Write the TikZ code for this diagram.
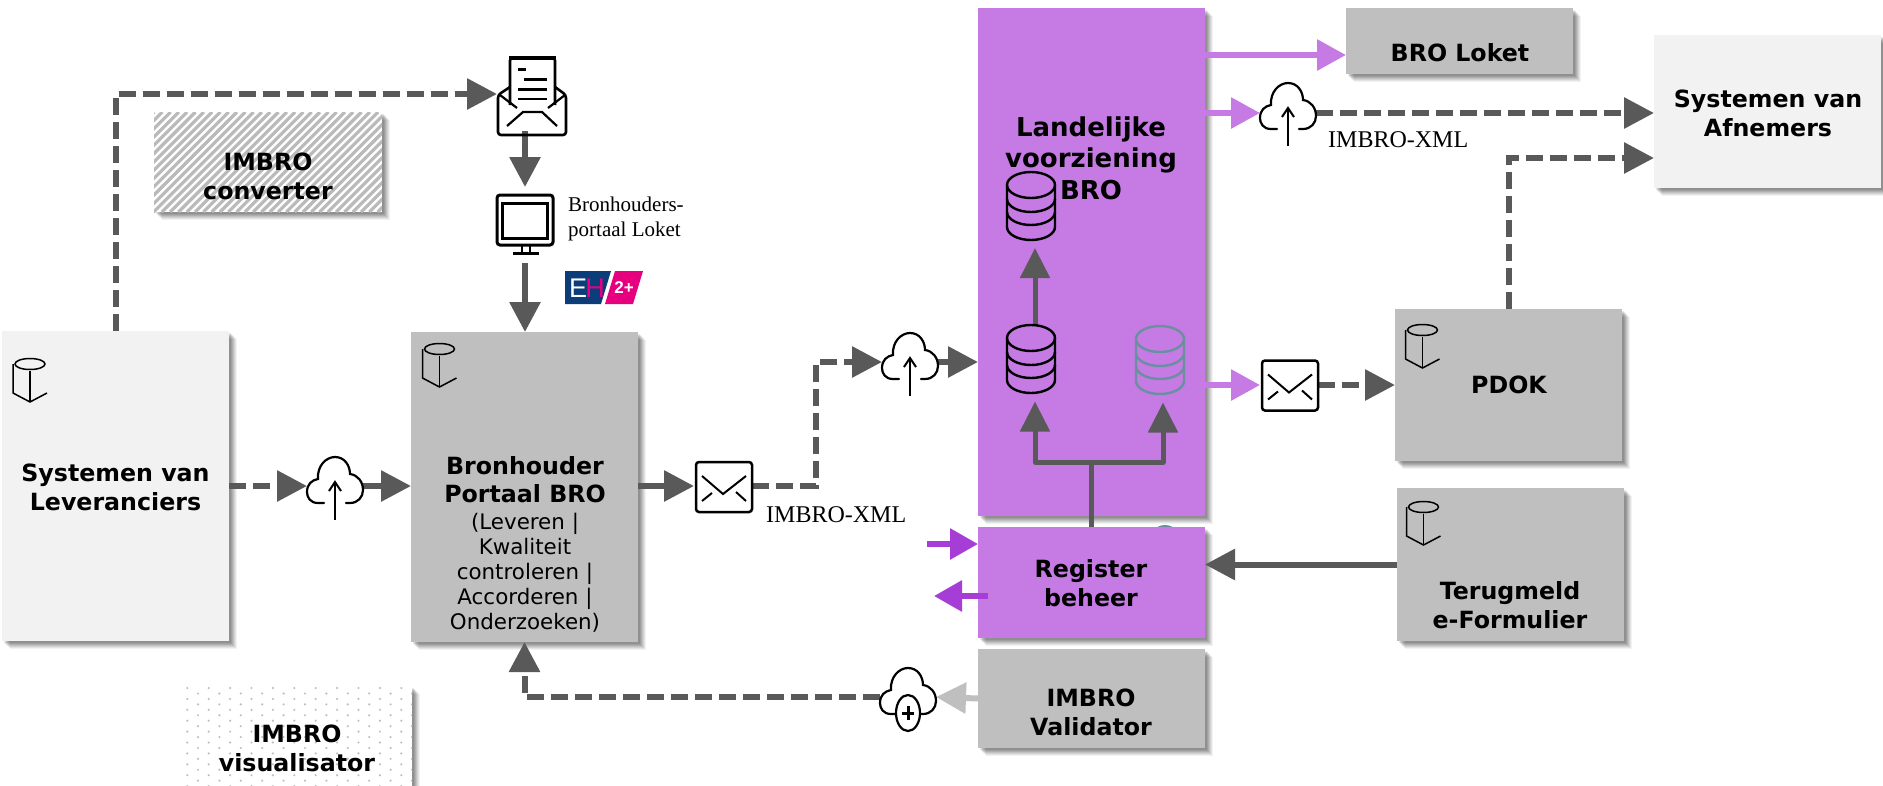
\documentclass[tikz,border=0pt]{standalone}
\usepackage{fontspec}
\setmainfont{DejaVu Sans}
\newfontfamily\lbserif{Liberation Serif}
\newfontfamily\lbsans{Liberation Sans}
\usetikzlibrary{arrows.meta,shadows,calc}
\definecolor{conngray}{HTML}{595959}
\definecolor{blockgray}{HTML}{BFBFBF}
\definecolor{blocklight}{HTML}{F2F2F2}
\definecolor{lvpurple}{HTML}{C57BE3}
\definecolor{darkpurple}{HTML}{A63DD6}
\definecolor{dbteal}{HTML}{6A8FA0}
\definecolor{ehblue}{HTML}{0B3D7A}
\definecolor{ehpink}{HTML}{E6007E}
\newcommand\lblfont{\fontsize{23.7}{29}\selectfont\bfseries}
\tikzset{
  softshadow/.style={
    general shadow={shadow xshift=8pt,shadow yshift=-8pt,fill=black,opacity=.05},
    general shadow={shadow xshift=7pt,shadow yshift=-7pt,fill=black,opacity=.06},
    general shadow={shadow xshift=6pt,shadow yshift=-6pt,fill=black,opacity=.07},
    general shadow={shadow xshift=5pt,shadow yshift=-5pt,fill=black,opacity=.08},
    general shadow={shadow xshift=4pt,shadow yshift=-4pt,fill=black,opacity=.09},
    general shadow={shadow xshift=3pt,shadow yshift=-3pt,fill=black,opacity=.09},
    general shadow={shadow xshift=2pt,shadow yshift=-2pt,fill=black,opacity=.09}},
  block/.style 2 args={softshadow,inner sep=0pt,outer sep=0pt,anchor=north west,minimum width=#1,minimum height=#2},
  lbl/.style={font=\lblfont,align=center,inner sep=0pt,text=black},
  xmltext/.style={font=\lbserif\fontsize{24}{26}\selectfont,anchor=west,inner sep=0pt,text=black},
  iconbox/.style={inner sep=0pt,outer sep=0pt,minimum width=56pt,minimum height=50pt},
  conn/.style={draw=conngray,line width=6pt,-{Triangle[length=30pt,width=30pt]}},
  dashconn/.style={conn,dash pattern=on 17pt off 7pt},
  dbconn/.style={draw=conngray,line width=5pt,line join=round,-{Triangle[length=30pt,width=29pt]}},
  purpleconn/.style={conn,draw=lvpurple,-{Triangle[length=29pt,width=30pt,fill=lvpurple]}},
  darkconn/.style={conn,draw=darkpurple,-{Triangle[length=28pt,width=30pt,fill=darkpurple]}},
  lightconn/.style={conn,draw=blockgray,-{Triangle[length=30pt,width=30pt,fill=blockgray]}},
  pics/cyl/.style={code={
    \draw[line width=1.5pt,black] (0,0) ellipse (15 and 5.5);
    \draw[line width=1.5pt,black] (-17,0) -- (-17,29) -- (0,38) -- (17,29);
    \draw[line width=1.5pt,black] (0,7) -- (0,38);
  }},
  pics/clouddrawing/.style={code={
    \draw[line width=2.2pt,black,line cap=round] (-11,17) -- (-17,17)
      .. controls (-25,17) and (-28,11) .. (-28,6)
      .. controls (-28,-2) and (-23,-6) .. (-17,-7)
      .. controls (-18,-20) and (-9,-29) .. (0,-29)
      .. controls (10,-29) and (15,-20) .. (15,-12)
      .. controls (23,-11) and (28,-4) .. (28,4)
      .. controls (28,11) and (23,17) .. (15,17) -- (11,17);
  }},
  pics/cloudup/.style={code={
    \pic {clouddrawing};
    \draw[line width=2pt,black] (0,34) -- (0,-3);
    \draw[line width=2pt,black] (-6,5) -- (0,-4) -- (6,5);
  }},
  pics/cloudplus/.style={code={
    \pic {clouddrawing};
    \draw[line width=2.2pt,black,fill=white] (0,16) ellipse (12 and 18);
    \draw[line width=3pt,black] (-6,16) -- (6,16) (0,9) -- (0,23);
  }},
  pics/envelope/.style={code={
    \draw[line width=2.5pt,black,fill=white,rounded corners=3pt] (-28,-25) rectangle (28,25);
    \draw[line width=2pt,black] (-22,-11) -- (-1,7) -- (22,-11);
    \draw[line width=2pt,black] (-22,14) -- (-12,6) (22,14) -- (12,5);
  }},
  pics/database/.style={code={
    \draw[line width=2.4pt,pic actions] (0,13) ellipse (24 and 13);
    \draw[line width=2.4pt,pic actions] (-24,13) -- (-24,55) arc[start angle=180,end angle=360,x radius=24,y radius=-13] -- (24,13);
    \draw[line width=2.4pt,pic actions] (-24,27) arc[start angle=180,end angle=360,x radius=24,y radius=-13];
    \draw[line width=2.4pt,pic actions] (-24,40) arc[start angle=180,end angle=360,x radius=24,y radius=-13];
  }},
  pics/screen/.style={code={
    \draw[line width=3pt,black,fill=white,rounded corners=3pt] (-28,-29) rectangle (28,21);
    \draw[line width=3pt,black] (-22.5,-21) rectangle (22.5,14);
    \draw[line width=1.6pt,black] (-3,21) -- (-3,29) (5,21) -- (5,29);
    \draw[line width=3.5pt,black] (-12,29.5) -- (14,29.5);
  }},
}
\begin{document}
\begin{tikzpicture}[x=1pt,y=-1pt]
\path[use as bounding box,fill=white] (0,0) rectangle (1883,785);

% blocks
\node[block={227pt}{310pt},fill=blocklight] (lev) at (2,331) {};
\node[block={227pt}{310pt},fill=blockgray] (bron) at (411,332) {};
\node[block={228pt}{100pt},fill=white] (conv) at (154,112) {};
\begin{scope}
  \clip (154,112) rectangle (382,212);
  \foreach \sx in {54,62.3,...,382} \draw[line width=3.2pt,color=black!27] (\sx,212) -- ++(100,-100);
\end{scope}
\node[block={227pt}{114pt},fill=white] (vis) at (185,686) {};
\begin{scope}
  \clip (185,686) rectangle (412,800);
  \foreach \row in {0,...,18} {
    \pgfmathsetmacro{\ry}{688+5.45*\row}
    \pgfmathsetmacro{\rx}{187.3+10.7*mod(\row,2)}
    \foreach \col in {0,...,10} {
      \fill[black!25] ({\rx+21.4*\col},\ry) circle (1.2);
    }
  }
\end{scope}
\node[block={227pt}{508pt},fill=lvpurple] (lv) at (978,8) {};
\draw[line width=2pt,dbteal] (1165,531) ellipse (9 and 5);
\node[block={227pt}{111pt},fill=lvpurple] (reg) at (978,527) {};
\node[block={227pt}{99pt},fill=blockgray] (val) at (978,649) {};
\node[block={227pt}{66pt},fill=blockgray] (loket) at (1346,8) {};
\node[block={227pt}{153pt},fill=blocklight] (afn) at (1654,35) {};
\node[block={227pt}{152pt},fill=blockgray] (pdok) at (1395,309) {};
\node[block={227pt}{153pt},fill=blockgray] (ter) at (1397,488) {};

% icon anchors
\node[iconbox,minimum width=69pt,minimum height=74pt] (mail) at (531.5,94) {};
\node[iconbox,minimum height=60pt] (mon) at (525,224) {};
\node[iconbox] (cloudA) at (335,486) {};
\node[iconbox] (cloudB) at (1288,113) {};
\node[iconbox] (cloudC) at (910,362) {};
\node[iconbox] (cloudD) at (908,697) {};
\node[iconbox] (envA) at (724,486) {};
\node[iconbox] (envB) at (1290,385) {};
\node[iconbox,minimum width=48pt,minimum height=70pt] (dbT) at (1031,207) {};
\node[iconbox,minimum width=48pt,minimum height=69pt] (dbM) at (1031,360) {};
\node[iconbox,minimum width=48pt,minimum height=71pt] (dbR) at (1160,360) {};

% connectors
\coordinate (bendA) at (816,486);
\coordinate (bendB) at (816,362);
\coordinate (junc) at (1091.5,462);
\coordinate (lokIn) at ([yshift=-14pt]loket.west);
\coordinate (afnIn) at ([yshift=-46.5pt]afn.west);
\coordinate (regInSrc) at (927,544);
\coordinate (regOutStart) at (988,596);
\coordinate (regOutEnd) at (934,596);

\draw[dashconn] (lev.north) |- (mail.west);
\draw[conn,shorten >=7pt] (mail.south -| mon.north) -- (mon.north);
\draw[conn,shorten <=9pt] (mon.south) -- (mon.south |- bron.north);
\draw[dashconn] (lev.east |- cloudA.west) -- (cloudA.west);
\draw[conn] (cloudA.east) -- (bron.west |- cloudA.east);
\draw[conn,shorten >=2pt] (bron.east |- envA.west) -- (envA.west);
\draw[dashconn] (envA.east) -- (bendA) -- (bendB) -- (cloudC.west);
\draw[conn] (cloudC.east) -- (lv.west |- cloudC.east);
\draw[dbconn,shorten >=6pt] ([xshift=4pt]dbM.north) -- ([xshift=4pt]dbT.south);
\draw[dbconn,shorten >=7pt] (reg.north) -- (junc) -| ([xshift=4pt]dbM.south);
\draw[dbconn,shorten >=7pt] (reg.north) -- (junc) -| ([xshift=3pt]dbR.south);
\draw[purpleconn] (lv.east |- lokIn) -- (lokIn);
\draw[purpleconn] (lv.east |- cloudB.west) -- (cloudB.west);
\draw[dashconn] (cloudB.east) -- (afn.west |- cloudB.east);
\draw[dashconn] (pdok.north) |- (afnIn);
\draw[purpleconn,shorten >=2pt] (lv.east |- envB.west) -- (envB.west);
\draw[dashconn] (envB.east) -- (pdok.west |- envB.east);
\draw[conn] (ter.west) -- (reg.east |- ter.west);
\draw[lightconn] (val.west) -- (cloudD.east);
\draw[dashconn] (cloudD.west) -| (bron.south);
\draw[darkconn] (regInSrc) -- (reg.west |- regInSrc);
\draw[darkconn] (regOutStart) -- (regOutEnd);

% icons
\pic at (335,486) {cloudup};
\pic at (1288,112) {cloudup};
\pic at (910,362) {cloudup};
\pic at (908,697) {cloudplus};
\pic at (724,487) {envelope};
\pic at (1290,385.5) {envelope};
\pic at (525,224) {screen};
\pic[draw=black] at (1031,172) {database};
\pic[draw=black] at (1031,325) {database};
\pic[draw=dbteal] at (1160,326) {database};
\pic at (30,364) {cyl};
\pic at (439.5,349) {cyl};
\pic at (1422.5,330) {cyl};
\pic at (1423.5,507) {cyl};

% mail with document
\draw[line width=2.6pt,black,rounded corners=2.5pt] (510,105) -- (510,58) -- (555,58) -- (555,105);
\draw[line width=3.5pt,black] (509,58) -- (556,58);
\draw[line width=3pt,black] (518,69) -- (526,69) (524,79) -- (547,79) (518,89) -- (547,89);
\draw[line width=2pt,black] (518,99) -- (547,99);
\draw[line width=2.6pt,black,rounded corners=3pt] (510,87) -- (498,95) -- (498,135) -- (566,135) -- (566,95) -- (555,87);
\draw[line width=2.2pt,black] (500,95) -- (517,108) (565,95) -- (548,108);
\draw[line width=2.2pt,black] (507,126) -- (523,112) -- (542,112) -- (557,126);

% logo
\fill[ehblue] (565,271) -- (611,271) -- (601,304) -- (565,304) -- cycle;
\fill[ehpink] (615,271) -- (643,271) -- (633,304) -- (605,304) -- cycle;
\node[inner sep=0pt,text=white,font=\lbsans\fontsize{27}{27}\selectfont] (ehE) at (578,288) {E};
\node[inner sep=0pt,text=ehpink,font=\lbsans\fontsize{27}{27}\selectfont] (ehH) at (595,288) {H};
\node[inner sep=0pt,text=white,font=\lbsans\bfseries\fontsize{17}{17}\selectfont] (ehN) at (624,288) {2+};

% labels
\node[lbl] (levL) at (115.5,487.5) {Systemen van\\Leveranciers};
\node[lbl,font=\fontsize{23.7}{28}\selectfont\bfseries] (bronL) at (525,544) {Bronhouder\\Portaal BRO\\[-1pt]{\fontsize{21.4}{25.5}\selectfont\mdseries (Leveren |}\\[-3pt]{\fontsize{21.4}{25.5}\selectfont\mdseries Kwaliteit}\\[-3pt]{\fontsize{21.4}{25.5}\selectfont\mdseries controleren |}\\[-3pt]{\fontsize{21.4}{25.5}\selectfont\mdseries Accorderen |}\\[-3pt]{\fontsize{21.4}{25.5}\selectfont\mdseries Onderzoeken)}};
\node[lbl] (convL) at (268,176) {IMBRO\\converter};
\node[lbl] (visL) at (297,748.5) {IMBRO\\visualisator};
\node[lbl,font=\fontsize{26}{31.5}\selectfont\bfseries] (lvL) at (1091,158) {Landelijke\\voorziening\\BRO};
\node[lbl] (regL) at (1091,583.5) {Register\\beheer};
\node[lbl] (valL) at (1091,712) {IMBRO\\Validator};
\node[lbl] (loketL) at (1460,53) {BRO Loket};
\node[lbl] (afnL) at (1768,113) {Systemen van\\Afnemers};
\node[lbl] (pdokL) at (1509,385) {PDOK};
\node[lbl] (terL) at (1510,605.5) {Terugmeld\\e-Formulier};
\node[xmltext] (xmlA) at (766,515) {IMBRO-XML};
\node[xmltext] (xmlB) at (1328,140) {IMBRO-XML};
\node[inner sep=0pt,anchor=west,align=left,text=black,font=\lbserif\fontsize{21}{25}\selectfont] (portL) at (568,218.5) {Bronhouders-\\portaal Loket};
\end{tikzpicture}
\end{document}
